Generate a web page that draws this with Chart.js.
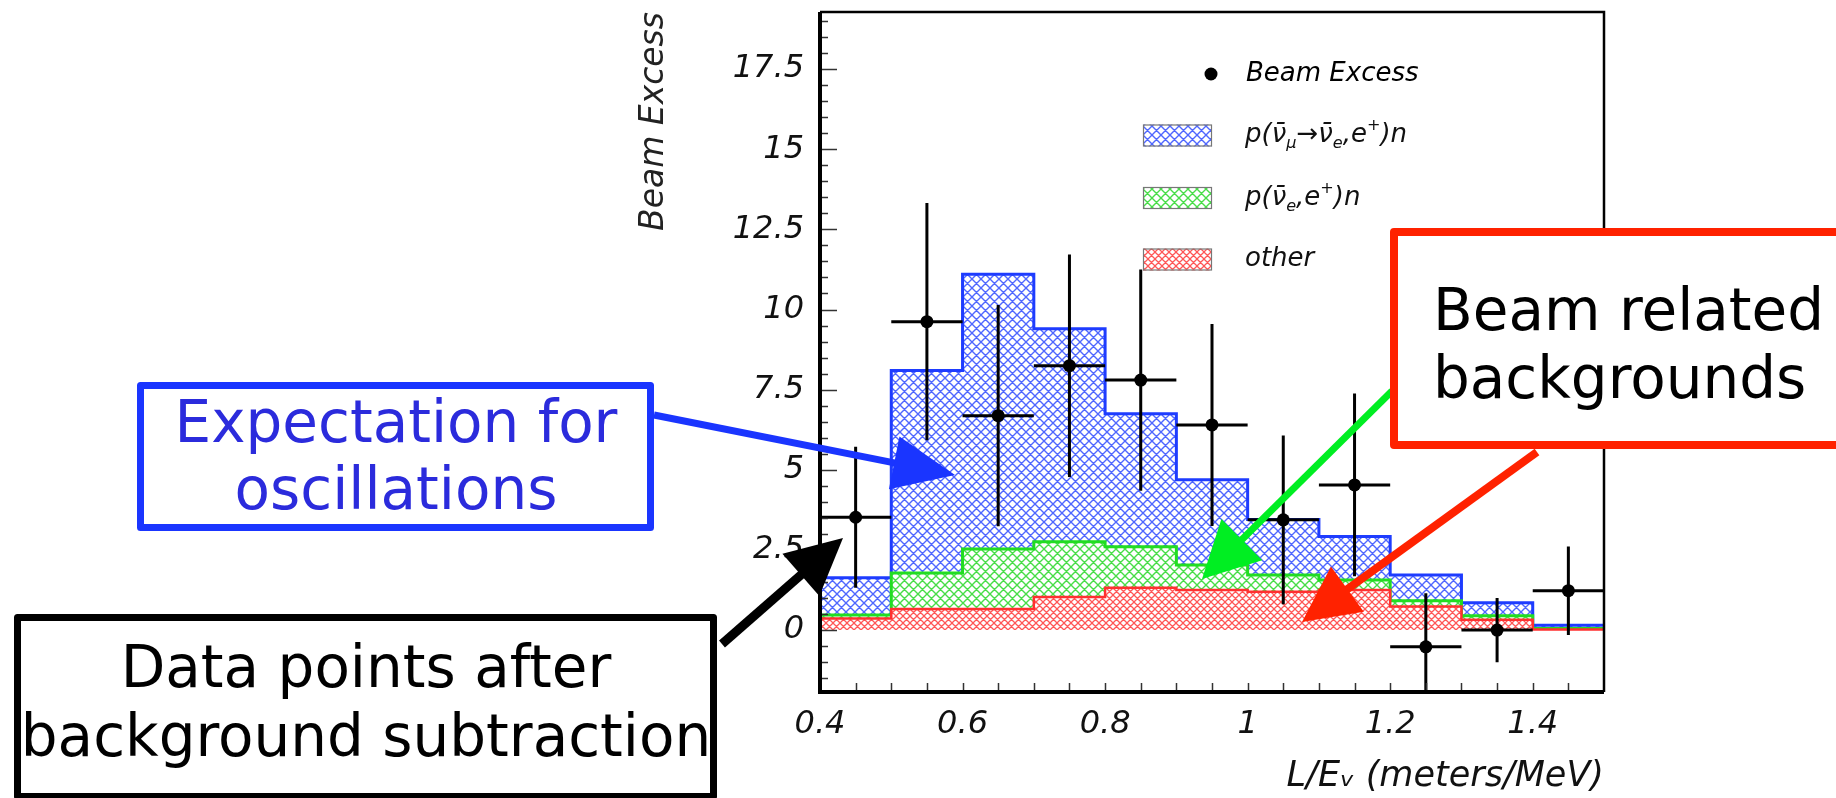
<!DOCTYPE html>
<html><head><meta charset="utf-8">
<script src="https://cdn.jsdelivr.net/npm/chart.js@4.4.1/dist/chart.umd.min.js"></script>
<style>html,body{margin:0;padding:0;background:#fff;overflow:hidden}#wrap{width:1836px;height:798px;position:relative}</style>
</head><body><div id="wrap"><canvas id="c" width="1836" height="798"></canvas></div>
<script>
// ---- data ----
const binCenters = [0.45,0.55,0.65,0.75,0.85,0.95,1.05,1.15,1.25,1.35,1.45];
const oscExpectation = [1.63,8.10,11.10,9.40,6.75,4.69,3.45,2.92,1.72,0.85,0.15];
const beamNueBkg   = [0.47,1.78,2.53,2.76,2.60,2.03,1.72,1.56,0.92,0.45,0.05];
const otherBkg     = [0.36,0.66,0.66,1.03,1.32,1.25,1.20,1.25,0.74,0.32,0.02];
const beamExcess    = [3.52,9.62,6.69,8.25,7.80,6.40,3.44,4.53,-0.52,0.00,1.23];
const beamExcessErr = [2.20,3.70,3.45,3.47,3.45,3.15,2.63,2.85,1.67,1.00,1.38];
const xTickValues = [0.4,0.6,0.8,1.0,1.2,1.4];
const xTickLabels = ['0.4','0.6','0.8','1','1.2','1.4'];
const yTickValues = [0,2.5,5,7.5,10,12.5,15,17.5];
const yTickLabels = ['0','2.5','5','7.5','10','12.5','15','17.5'];
const xTitle = 'L/E\u1D65 (meters/MeV)';
const yTitle = 'Beam Excess';
const legendExcess = 'Beam Excess';
const legendOsc = [['p(\u03BD\u0304',''],['\u03BC','sub'],['\u2192\u03BD\u0304',''],['e','sub'],[',e',''],['+','sup'],[')n','']];
const legendNue = [['p(\u03BD\u0304',''],['e','sub'],[',e',''],['+','sup'],[')n','']];
const legendOther = [['other','']];
const calloutTexts = [['Expectation for','oscillations'],['Data points after','background subtraction'],['Beam related','backgrounds']];

// ---- helpers ----
const canvas = document.getElementById('c');
const ctx = canvas.getContext('2d');
function hatch(color, s, lw){
  const c = document.createElement('canvas'); c.width = s; c.height = s;
  const g = c.getContext('2d');
  g.fillStyle = '#fff'; g.fillRect(0,0,s,s);
  g.strokeStyle = color; g.lineWidth = lw;
  g.beginPath();
  for (let k=-1;k<=1;k++){
    g.moveTo(k*s - s, -s); g.lineTo(k*s + 2*s, 2*s);
    g.moveTo(k*s + 2*s, -s); g.lineTo(k*s - s, 2*s);
  }
  g.stroke();
  return ctx.createPattern(c,'repeat');
}
const patBlue = hatch('rgba(35,65,255,0.8)', 9, 1.4);
const patGreen = hatch('rgba(40,215,40,0.85)', 9, 1.4);
const patRed = hatch('rgba(255,45,45,0.8)', 7, 1.3);
const halfW = (binCenters[1]-binCenters[0])/2;
function stepData(vals){
  const pts = binCenters.map((c,i)=>({x:c-halfW, y:vals[i]}));
  pts.push({x:binCenters[binCenters.length-1]+halfW, y:vals[vals.length-1]});
  return pts;
}
const tickFont = {family:'DejaVu Sans', style:'italic', size:32};

// ---- plugins ----
const whiteBg = {id:'whiteBg', beforeDraw(ch){ const c=ch.ctx; c.save(); c.fillStyle='#fff'; c.fillRect(0,0,ch.width,ch.height); c.restore(); }};

const errorBars = {id:'errorBars', afterDatasetsDraw(ch){
  const c = ch.ctx, xs = ch.scales.x, ys = ch.scales.y, a = ch.chartArea;
  c.save(); c.beginPath(); c.rect(a.left,a.top,a.right-a.left,a.bottom-a.top); c.clip();
  c.strokeStyle = '#000'; c.lineWidth = 3;
  binCenters.forEach((xc,i)=>{
    const y = beamExcess[i], e = beamExcessErr[i];
    c.beginPath();
    c.moveTo(xs.getPixelForValue(xc-halfW), ys.getPixelForValue(y));
    c.lineTo(xs.getPixelForValue(xc+halfW), ys.getPixelForValue(y));
    c.moveTo(xs.getPixelForValue(xc), ys.getPixelForValue(y+e));
    c.lineTo(xs.getPixelForValue(xc), ys.getPixelForValue(y-e));
    c.stroke();
  });
  c.restore();
}};

const frameTicks = {id:'frameTicks', afterDatasetsDraw(ch){
  const c = ch.ctx, xs = ch.scales.x, ys = ch.scales.y, a = ch.chartArea;
  c.save();
  c.strokeStyle = '#333'; c.lineWidth = 1.5;
  c.beginPath();
  for (let v = Math.ceil(ys.min*2)/2; v <= ys.max; v += 0.5){
    const p = Math.round(ys.getPixelForValue(v))+0.5;
    const major = yTickValues.some(t=>Math.abs(t-v)<1e-6);
    c.moveTo(a.left, p); c.lineTo(a.left + (major?17:8), p);
  }
  for (let v = xs.min + 0.05; v < xs.max - 1e-6; v += 0.05){
    const p = Math.round(xs.getPixelForValue(v))+0.5;
    c.moveTo(p, a.bottom); c.lineTo(p, a.bottom - 9);
  }
  c.stroke();
  c.strokeStyle = '#000';
  c.lineWidth = 4; c.beginPath(); c.moveTo(a.left, a.top); c.lineTo(a.left, a.bottom); c.lineTo(a.right, a.bottom); c.stroke();
  c.lineWidth = 2.5; c.beginPath(); c.moveTo(a.left, a.top); c.lineTo(a.right, a.top); c.lineTo(a.right, a.bottom); c.stroke();
  c.restore();
}};

function richText(c, segs, x, y, size){
  let cx = x;
  segs.forEach(([t,kind])=>{
    let fs = size, dy = 0;
    if (kind==='sub'){ fs = size*0.62; dy = size*0.32; }
    if (kind==='sup'){ fs = size*0.62; dy = -size*0.36; }
    c.font = 'italic ' + fs + 'px "DejaVu Sans"';
    c.fillText(t, cx, y+dy);
    cx += c.measureText(t).width;
  });
}
const legendDraw = {id:'legendDraw', afterDatasetsDraw(ch){
  const c = ch.ctx; c.save();
  c.fillStyle = '#000'; c.textBaseline = 'middle'; c.textAlign = 'left';
  c.beginPath(); c.arc(1211, 74, 6.5, 0, Math.PI*2); c.fill();
  richText(c, [[legendExcess,'']], 1246, 74, 26);
  const rows = [[patBlue, legendOsc, 135.5],[patGreen, legendNue, 198],[patRed, legendOther, 259.5]];
  rows.forEach(([pat, segs, yc])=>{
    c.fillStyle = pat; c.fillRect(1143, yc-11, 69, 22);
    c.strokeStyle = '#777'; c.lineWidth = 1.2; c.strokeRect(1143.5, yc-10.5, 68, 21);
    c.fillStyle = '#111';
    richText(c, segs, 1245, yc, 26);
  });
  c.restore();
}};

const arrows = [
  {from:[654,415], to:[955,475], lw:7, hl:62, hw:54, color:'#1a35ff'},
  {from:[722,644], to:[843,538], lw:9, hl:56, hw:56, color:'#000'},
  {from:[1392,391], to:[1202,579], lw:7, hl:56, hw:58, color:'#00ee22'},
  {from:[1537,452], to:[1302,622], lw:8, hl:56, hw:56, color:'#ff2200'}
];
const callouts = [
  {lines:calloutTexts[0], rect:[137,382,654,531], lw:7, border:'#1a35ff', color:'#2b2bdc', x:396, base:[442,509], align:'center'},
  {lines:calloutTexts[1], rect:[14,614,717,800], lw:7, border:'#000', color:'#000', x:366, base:[687,756], align:'center'},
  {lines:calloutTexts[2], rect:[1390,228,1860,449], lw:8, border:'#ff2200', color:'#000', x:1433, base:[330,398], align:'left'}
];
const annotate = {id:'annotate', afterDraw(ch){
  const c = ch.ctx; c.save();
  arrows.forEach(ar=>{
    const [x0,y0]=ar.from, [x1,y1]=ar.to;
    const dx=x1-x0, dy=y1-y0, L=Math.hypot(dx,dy), ux=dx/L, uy=dy/L;
    const bx = x1-ux*ar.hl, by = y1-uy*ar.hl;
    c.strokeStyle = ar.color; c.fillStyle = ar.color; c.lineWidth = ar.lw; c.lineCap='butt';
    c.beginPath(); c.moveTo(x0,y0); c.lineTo(bx+ux*4,by+uy*4); c.stroke();
    c.beginPath(); c.moveTo(x1,y1);
    c.lineTo(bx - uy*ar.hw/2, by + ux*ar.hw/2);
    c.lineTo(bx + uy*ar.hw/2, by - ux*ar.hw/2);
    c.closePath(); c.fill();
  });
  callouts.forEach(co=>{
    const [l,t,r,b] = co.rect, h = co.lw/2;
    c.fillStyle = '#fff'; c.fillRect(l,t,r-l,b-t);
    c.strokeStyle = co.border; c.lineWidth = co.lw; c.lineJoin='round';
    c.strokeRect(l+h, t+h, r-l-co.lw, b-t-co.lw);
    c.fillStyle = co.color; c.font = '58px "DejaVu Sans"'; c.textAlign = co.align; c.textBaseline='alphabetic';
    co.lines.forEach((s,i)=> c.fillText(s, co.x, co.base[i]));
  });
  c.restore();
}};

// ---- chart ----
new Chart(ctx, {
  type: 'line',
  data: { datasets: [
    {label:'osc', data: stepData(oscExpectation), stepped:'before', borderColor:'#1e3cff', borderWidth:3, backgroundColor:patBlue, fill:'origin', pointRadius:0, order:4},
    {label:'nue', data: stepData(beamNueBkg), stepped:'before', borderColor:'#22dd22', borderWidth:3, backgroundColor:patGreen, fill:'origin', pointRadius:0, order:3},
    {label:'other', data: stepData(otherBkg), stepped:'before', borderColor:'#ff3030', borderWidth:2.5, backgroundColor:patRed, fill:'origin', pointRadius:0, order:2},
    {type:'scatter', label:legendExcess, data: binCenters.map((x,i)=>({x, y:beamExcess[i]})), showLine:false, pointRadius:6.5, pointBackgroundColor:'#000', pointBorderColor:'#000', pointBorderWidth:0, order:1}
  ]},
  options: {
    responsive:false, animation:false, devicePixelRatio:1,
    layout:{padding:{left:620, right:232, top:12, bottom:0}},
    plugins:{legend:{display:false}, tooltip:{enabled:false}},
    scales:{
      x:{type:'linear', min:0.4, max:1.5,
        grid:{display:false, drawTicks:false}, border:{display:false},
        afterBuildTicks: s => { s.ticks = xTickValues.map(v=>({value:v})); },
        afterFit: s => { s.height = 106; s.paddingLeft = 0; s.paddingRight = 0; },
        ticks:{padding:13, color:'#111', font:tickFont, maxRotation:0, autoSkip:false, callback:(v,i)=>xTickLabels[i]},
        title:{display:true, text:xTitle, align:'end', color:'#111', font:{family:'DejaVu Sans', style:'italic', size:35}, padding:{top:0,bottom:0}}
      },
      y:{type:'linear', min:-1.93, max:19.28,
        grid:{display:false, drawTicks:false}, border:{display:false},
        afterBuildTicks: s => { s.ticks = yTickValues.map(v=>({value:v})); },
        afterFit: s => { s.width = 200; s.paddingTop = 0; s.paddingBottom = 0; },
        ticks:{padding:16, color:'#111', font:tickFont, autoSkip:false, callback:(v,i)=>yTickLabels[i]},
        title:{display:true, text:yTitle, align:'end', color:'#222', font:{family:'DejaVu Sans', style:'italic', size:33}, padding:{top:15,bottom:0}}
      }
    }
  },
  plugins:[whiteBg, errorBars, frameTicks, legendDraw, annotate]
});
</script></body></html>
